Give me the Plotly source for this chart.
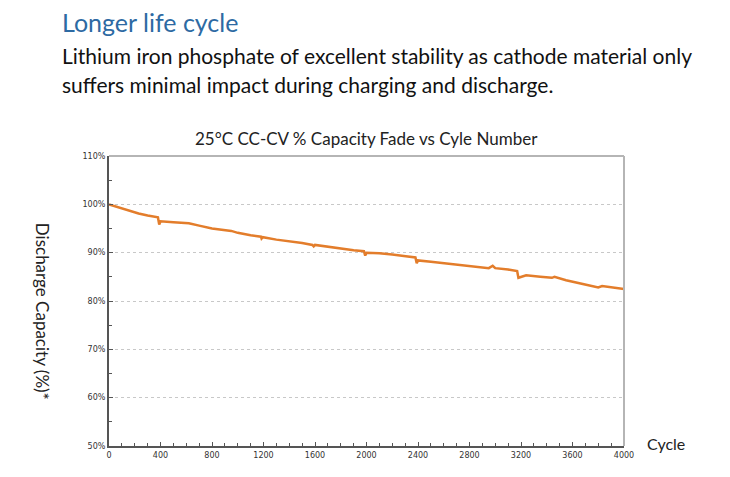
import plotly.graph_objects as go

# --- data ---
cycles = [0, 60, 120, 230, 300, 380, 390, 400, 500, 620, 700, 800, 950, 1000,
          1100, 1180, 1185, 1195, 1300, 1400, 1500, 1580, 1590, 1600, 1700, 1800,
          1900, 1980, 1990, 2000, 2100, 2200, 2300, 2380, 2390, 2400, 2500, 2600,
          2700, 2800, 2950, 2980, 3000, 3100, 3170, 3180, 3240, 3350, 3440, 3460,
          3550, 3680, 3800, 3830, 3900, 4000]
capacity = [100.0, 99.5, 98.9, 98.1, 97.7, 97.3, 95.8, 96.5, 96.3, 96.1, 95.6, 95.0,
            94.5, 94.1, 93.6, 93.3, 92.9, 93.2, 92.7, 92.4, 92.0, 91.6, 91.3, 91.6,
            91.2, 90.8, 90.5, 90.3, 89.4, 90.0, 89.9, 89.6, 89.3, 89.0, 87.8, 88.4,
            88.1, 87.8, 87.5, 87.2, 86.8, 87.3, 86.8, 86.5, 86.2, 84.8, 85.3, 85.0,
            84.8, 85.0, 84.3, 83.5, 82.8, 83.1, 82.9, 82.5]

y_ticks = [50, 60, 70, 80, 90, 100, 110]
y_labels = [f"{v}%" for v in y_ticks]

heading = "Longer life cycle"
body_lines = ["Lithium iron phosphate of excellent stability as cathode material only",
              "suffers minimal impact during charging and discharge."]
chart_title = "25°C CC-CV % Capacity Fade vs Cyle Number"

fig = go.Figure()
fig.add_trace(go.Scatter(
    x=cycles, y=capacity, mode="lines",
    line=dict(color="#e37d2b", width=2.5),
    showlegend=False, hoverinfo="skip"
))

tick_font = dict(family="DejaVu Sans", size=8, color="#333")
fig.update_xaxes(
    range=[0, 4000], dtick=400, tick0=0,
    ticks="inside", ticklen=4, tickcolor="#555",
    minor=dict(dtick=100, ticks="inside", ticklen=3, tickcolor="#555"),
    showline=True, linecolor="#555", linewidth=2,
    showgrid=False, zeroline=False, tickfont=tick_font
)
fig.update_yaxes(
    range=[50, 110], tickvals=y_ticks, ticktext=y_labels,
    ticks="inside", ticklen=4, tickcolor="#555",
    minor=dict(dtick=5, ticks="inside", ticklen=3, tickcolor="#555", showgrid=False),
    showline=True, linecolor="#555", linewidth=2,
    showgrid=True, gridcolor="#c8c8c8", griddash="dot", gridwidth=1,
    zeroline=False, tickfont=tick_font
)

# light frame on the top and right
fig.add_shape(type="line", xref="paper", yref="paper", x0=0, x1=1, y0=1, y1=1,
              line=dict(color="#b5b5b5", width=2))
fig.add_shape(type="line", xref="paper", yref="paper", x0=1, x1=1, y0=0, y1=1,
              line=dict(color="#b5b5b5", width=2))

text_font = "Lato"
fig.add_annotation(text=heading, xref="paper", yref="paper", x=-0.095, y=1.462,
                   xanchor="left", yanchor="middle", showarrow=False,
                   font=dict(family=text_font, size=25, color="#2d6aa3"))
for line_text, y_pos in zip(body_lines, [1.348, 1.245]):
    fig.add_annotation(text=line_text, xref="paper", yref="paper", x=-0.095, y=y_pos,
                       xanchor="left", yanchor="middle", showarrow=False,
                       font=dict(family=text_font, size=21, color="#111"))
fig.add_annotation(text=chart_title, xref="paper", yref="paper", x=0.5, y=1.059,
                   xanchor="center", yanchor="middle", showarrow=False,
                   font=dict(family=text_font, size=17, color="#222"))
fig.add_annotation(text="Discharge Capacity (%)*", xref="paper", yref="paper",
                   x=-0.13, y=0.466, textangle=90, xanchor="center", yanchor="middle",
                   showarrow=False, font=dict(family=text_font, size=17, color="#222"))
fig.add_annotation(text="Cycle", xref="paper", yref="paper", x=1.04, y=0.01,
                   xanchor="left", yanchor="middle", showarrow=False,
                   font=dict(family=text_font, size=16, color="#222"))

# page body has an 8px margin, so offsets are trimmed by 8
fig.update_layout(
    width=730, height=477,
    margin=dict(l=101, r=114, t=148, b=39),
    paper_bgcolor="white", plot_bgcolor="white"
)

fig.write_html("out.html")
